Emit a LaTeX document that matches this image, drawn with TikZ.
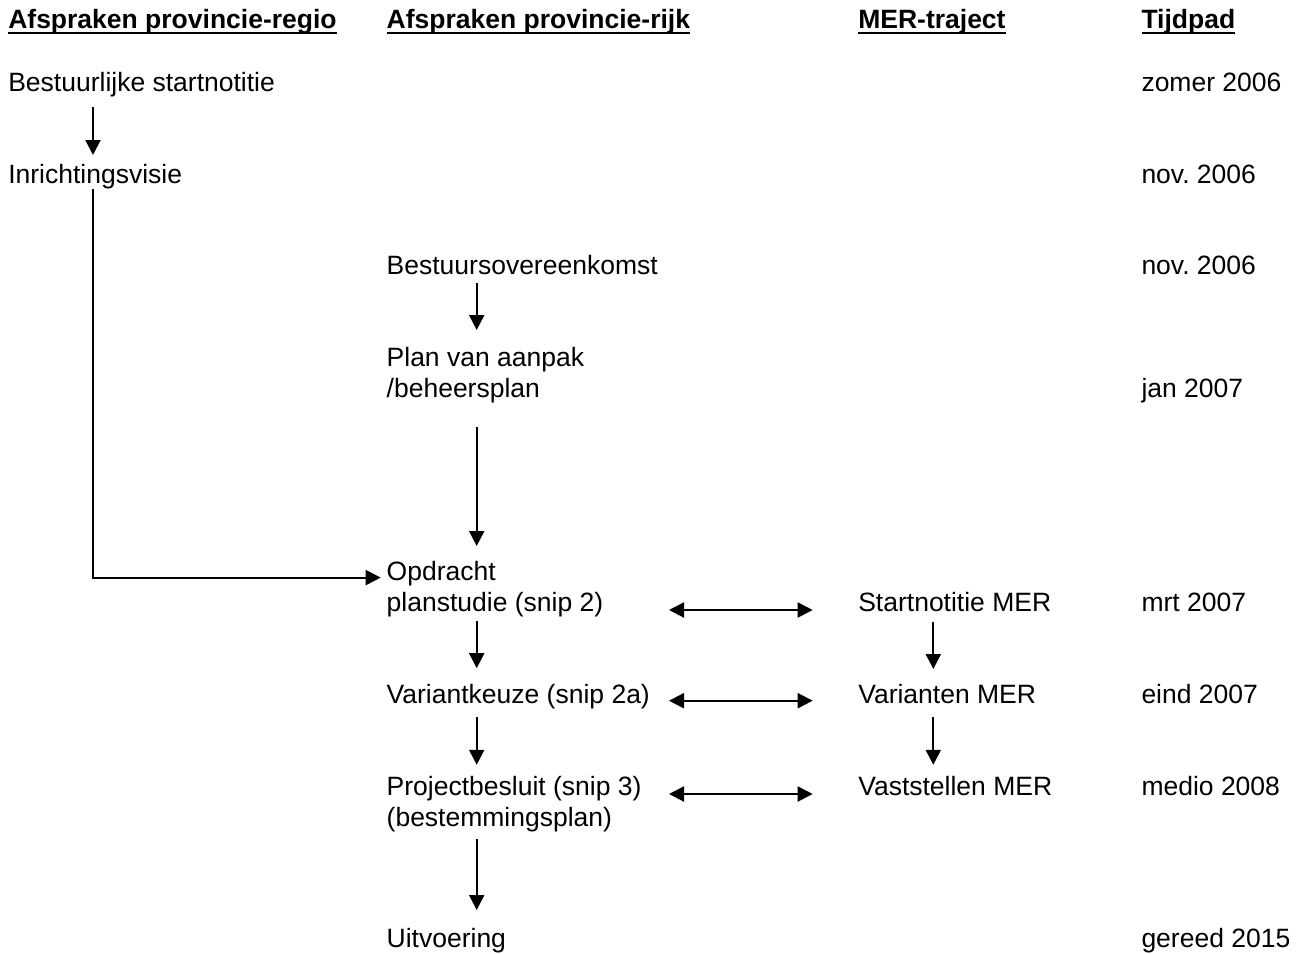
\documentclass[tikz,border=0pt]{standalone}
\usepackage{fontspec}
\setmainfont{Liberation Sans}
\usetikzlibrary{arrows.meta,calc}
\frenchspacing
\begin{document}
\begin{tikzpicture}[x=1pt,y=-1pt,
  txt/.style={anchor=base west,inner sep=0pt,outer sep=0pt,font=\fontsize{26.5}{30.6}\selectfont},
  hdr/.style={txt,font=\fontsize{26.5}{30.6}\selectfont\bfseries},
  uline/.style={line width=2pt},
  arr/.style={line width=2pt,-{Triangle[length=15pt,width=15pt]}},
  darr/.style={line width=2pt,{Triangle[length=15pt,width=15pt]}-{Triangle[length=15pt,width=15pt]}}]
\useasboundingbox (0,0) rectangle (1298,953);
% column x positions
\coordinate (lx) at (93,0);
\coordinate (mx) at (476.7,0);
\coordinate (cx) at (933.3,0);
\coordinate (dl) at (669,0);
\coordinate (dr) at (812.7,0);
% headers
\node[hdr] (h1) at (8.3,28.5) {Afspraken provincie-regio};
\node[hdr] (h2) at (386.7,28.5) {Afspraken provincie-rijk};
\node[hdr] (h3) at (858.3,28.5) {MER-traject};
\node[hdr] (h4) at (1141.5,28.5) {Tijdpad};
\foreach \h in {h1,h2,h3,h4}{
  \draw[uline] ($(\h.base west)+(0,4)$) -- ($(\h.base east)+(0,4)$);
}
% left column
\node[txt] (bs) at (8.3,91) {Bestuurlijke startnotitie};
\node[txt] (iv) at (8.3,183) {Inrichtingsvisie};
% middle column
\node[txt] (bo) at (386.7,274.6) {Bestuursovereenkomst};
\node[txt] (pl1) at (386.7,366.6) {Plan van aanpak};
\node[txt] (pl2) at (386.7,397) {/beheersplan};
\node[txt] (opd) at (386.7,580.6) {Opdracht};
\node[txt] (ps) at (386.7,611.5) {planstudie (snip 2)};
\node[txt] (vk) at (386.7,703.5) {Variantkeuze (snip 2a)};
\node[txt] (pb) at (386.7,795.5) {Projectbesluit (snip 3)};
\node[txt] (bp) at (386.7,826.3) {(bestemmingsplan)};
\node[txt] (uv) at (386.7,947.8) {Uitvoering};
% MER column
\node[txt] (sm) at (858.3,611.5) {Startnotitie MER};
\node[txt] (vm) at (858.3,703.5) {Varianten MER};
\node[txt] (vs) at (858.3,795.5) {Vaststellen MER};
% time column
\node[txt] (t1) at (1141.5,91) {zomer 2006};
\node[txt] (t2) at (1141.5,183) {nov. 2006};
\node[txt] (t3) at (1141.5,274.6) {nov. 2006};
\node[txt] (t4) at (1141.5,397) {jan 2007};
\node[txt] (t5) at (1141.5,611.5) {mrt 2007};
\node[txt] (t6) at (1141.5,703.5) {eind 2007};
\node[txt] (t7) at (1141.5,795.5) {medio 2008};
\node[txt] (t8) at (1141.5,947.8) {gereed 2015};
% left arrows
\draw[arr] ($(bs.base -| lx)+(0,16)$) -- ($(iv.base -| lx)+(0,-28)$);
\draw[arr] ($(iv.base -| lx)+(0,6)$) |- ($(opd.base west)+(-6,-3)$);
% middle arrows
\draw[arr] ($(bo.base -| mx)+(0,8.1)$) -- ($(pl1.base -| mx)+(0,-36.6)$);
\draw[arr] ($(pl2.base -| mx)+(0,29.7)$) -- ($(opd.base -| mx)+(0,-34.6)$);
\draw[arr] ($(ps.base -| mx)+(0,9.7)$) -- ($(vk.base -| mx)+(0,-35.3)$);
\draw[arr] ($(vk.base -| mx)+(0,13.8)$) -- ($(pb.base -| mx)+(0,-30.7)$);
\draw[arr] ($(bp.base -| mx)+(0,12.7)$) -- ($(uv.base -| mx)+(0,-37.8)$);
% MER arrows
\draw[arr] ($(sm.base -| cx)+(0,10)$) -- ($(vm.base -| cx)+(0,-34.5)$);
\draw[arr] ($(vm.base -| cx)+(0,13.5)$) -- ($(vs.base -| cx)+(0,-30.7)$);
% double arrows
\draw[darr] ($(ps.base -| dl)+(0,-1.5)$) -- ($(ps.base -| dr)+(0,-1.5)$);
\draw[darr] ($(vk.base -| dl)+(0,-2.8)$) -- ($(vk.base -| dr)+(0,-2.8)$);
\draw[darr] ($(pb.base -| dl)+(0,-1.5)$) -- ($(pb.base -| dr)+(0,-1.5)$);
\end{tikzpicture}
\end{document}
